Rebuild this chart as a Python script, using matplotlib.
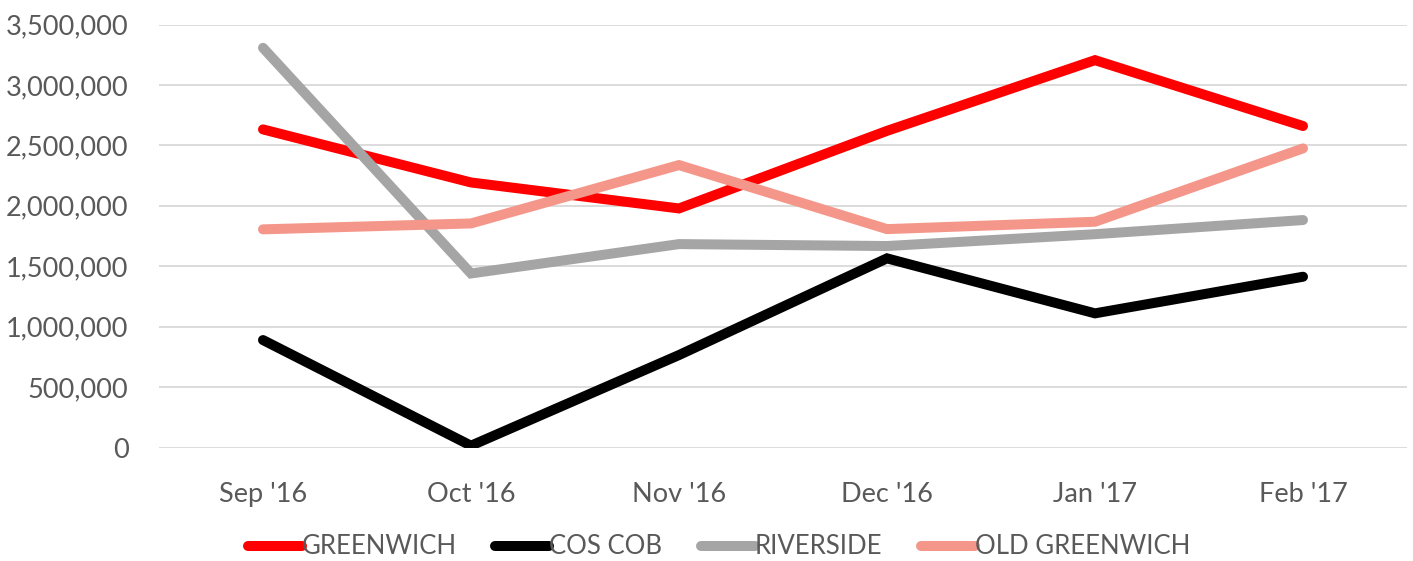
import matplotlib
matplotlib.use("Agg")
import matplotlib.pyplot as plt
from matplotlib.ticker import FuncFormatter

months = ["Sep '16", "Oct '16", "Nov '16", "Dec '16", "Jan '17", "Feb '17"]
greenwich = [2632000, 2193000, 1978000, 2620000, 3205000, 2660000]
cos_cob = [889000, 15000, 765000, 1565000, 1110000, 1413000]
riverside = [3307000, 1440000, 1683000, 1667000, 1765000, 1882000]
old_greenwich = [1805000, 1854000, 2337000, 1807000, 1868000, 2475000]

series = [
    ("GREENWICH", greenwich, "#FF0000"),
    ("COS COB", cos_cob, "#000000"),
    ("RIVERSIDE", riverside, "#A5A5A5"),
    ("OLD GREENWICH", old_greenwich, "#F4978A"),
]

plt.rcParams['font.family'] = ['Lato', 'DejaVu Sans']
fig = plt.figure(figsize=(14.13, 5.61), dpi=100)
ax = fig.add_axes([159/1413, 1-447.5/561, (1407-159)/1413, (447.5-24.5)/561])

x = list(range(len(months)))
for name, vals, col in series:
    ax.plot(x, vals, color=col, lw=7.2, label=name,
            solid_capstyle='round', solid_joinstyle='miter')

ax.set_xlim(-0.5, len(months) - 0.5)
ax.set_ylim(0, 3500000)
ax.set_yticks(range(0, 3500001, 500000))
ax.yaxis.set_major_formatter(FuncFormatter(lambda v, p: f"{int(v):,}"))
ax.set_xticks(x)
ax.set_xticklabels(months)
ax.grid(axis='y', color='#D9D9D9', lw=1.3)
ax.set_axisbelow(True)
for s in ['top', 'right', 'left', 'bottom']:
    ax.spines[s].set_visible(False)
ax.tick_params(axis='both', length=0, labelsize=19.5, labelcolor='#595959')
ax.tick_params(axis='y', pad=22)
ax.tick_params(axis='x', pad=25)

leg = fig.legend(loc='center', bbox_to_anchor=(719/1413, 1-547/561), ncol=4,
                 frameon=False, fontsize=18.5, handlelength=2.1, handletextpad=0.0,
                 columnspacing=1.5)
for t in leg.get_texts():
    t.set_color('#595959')

fig.savefig("out.png", dpi=100)
